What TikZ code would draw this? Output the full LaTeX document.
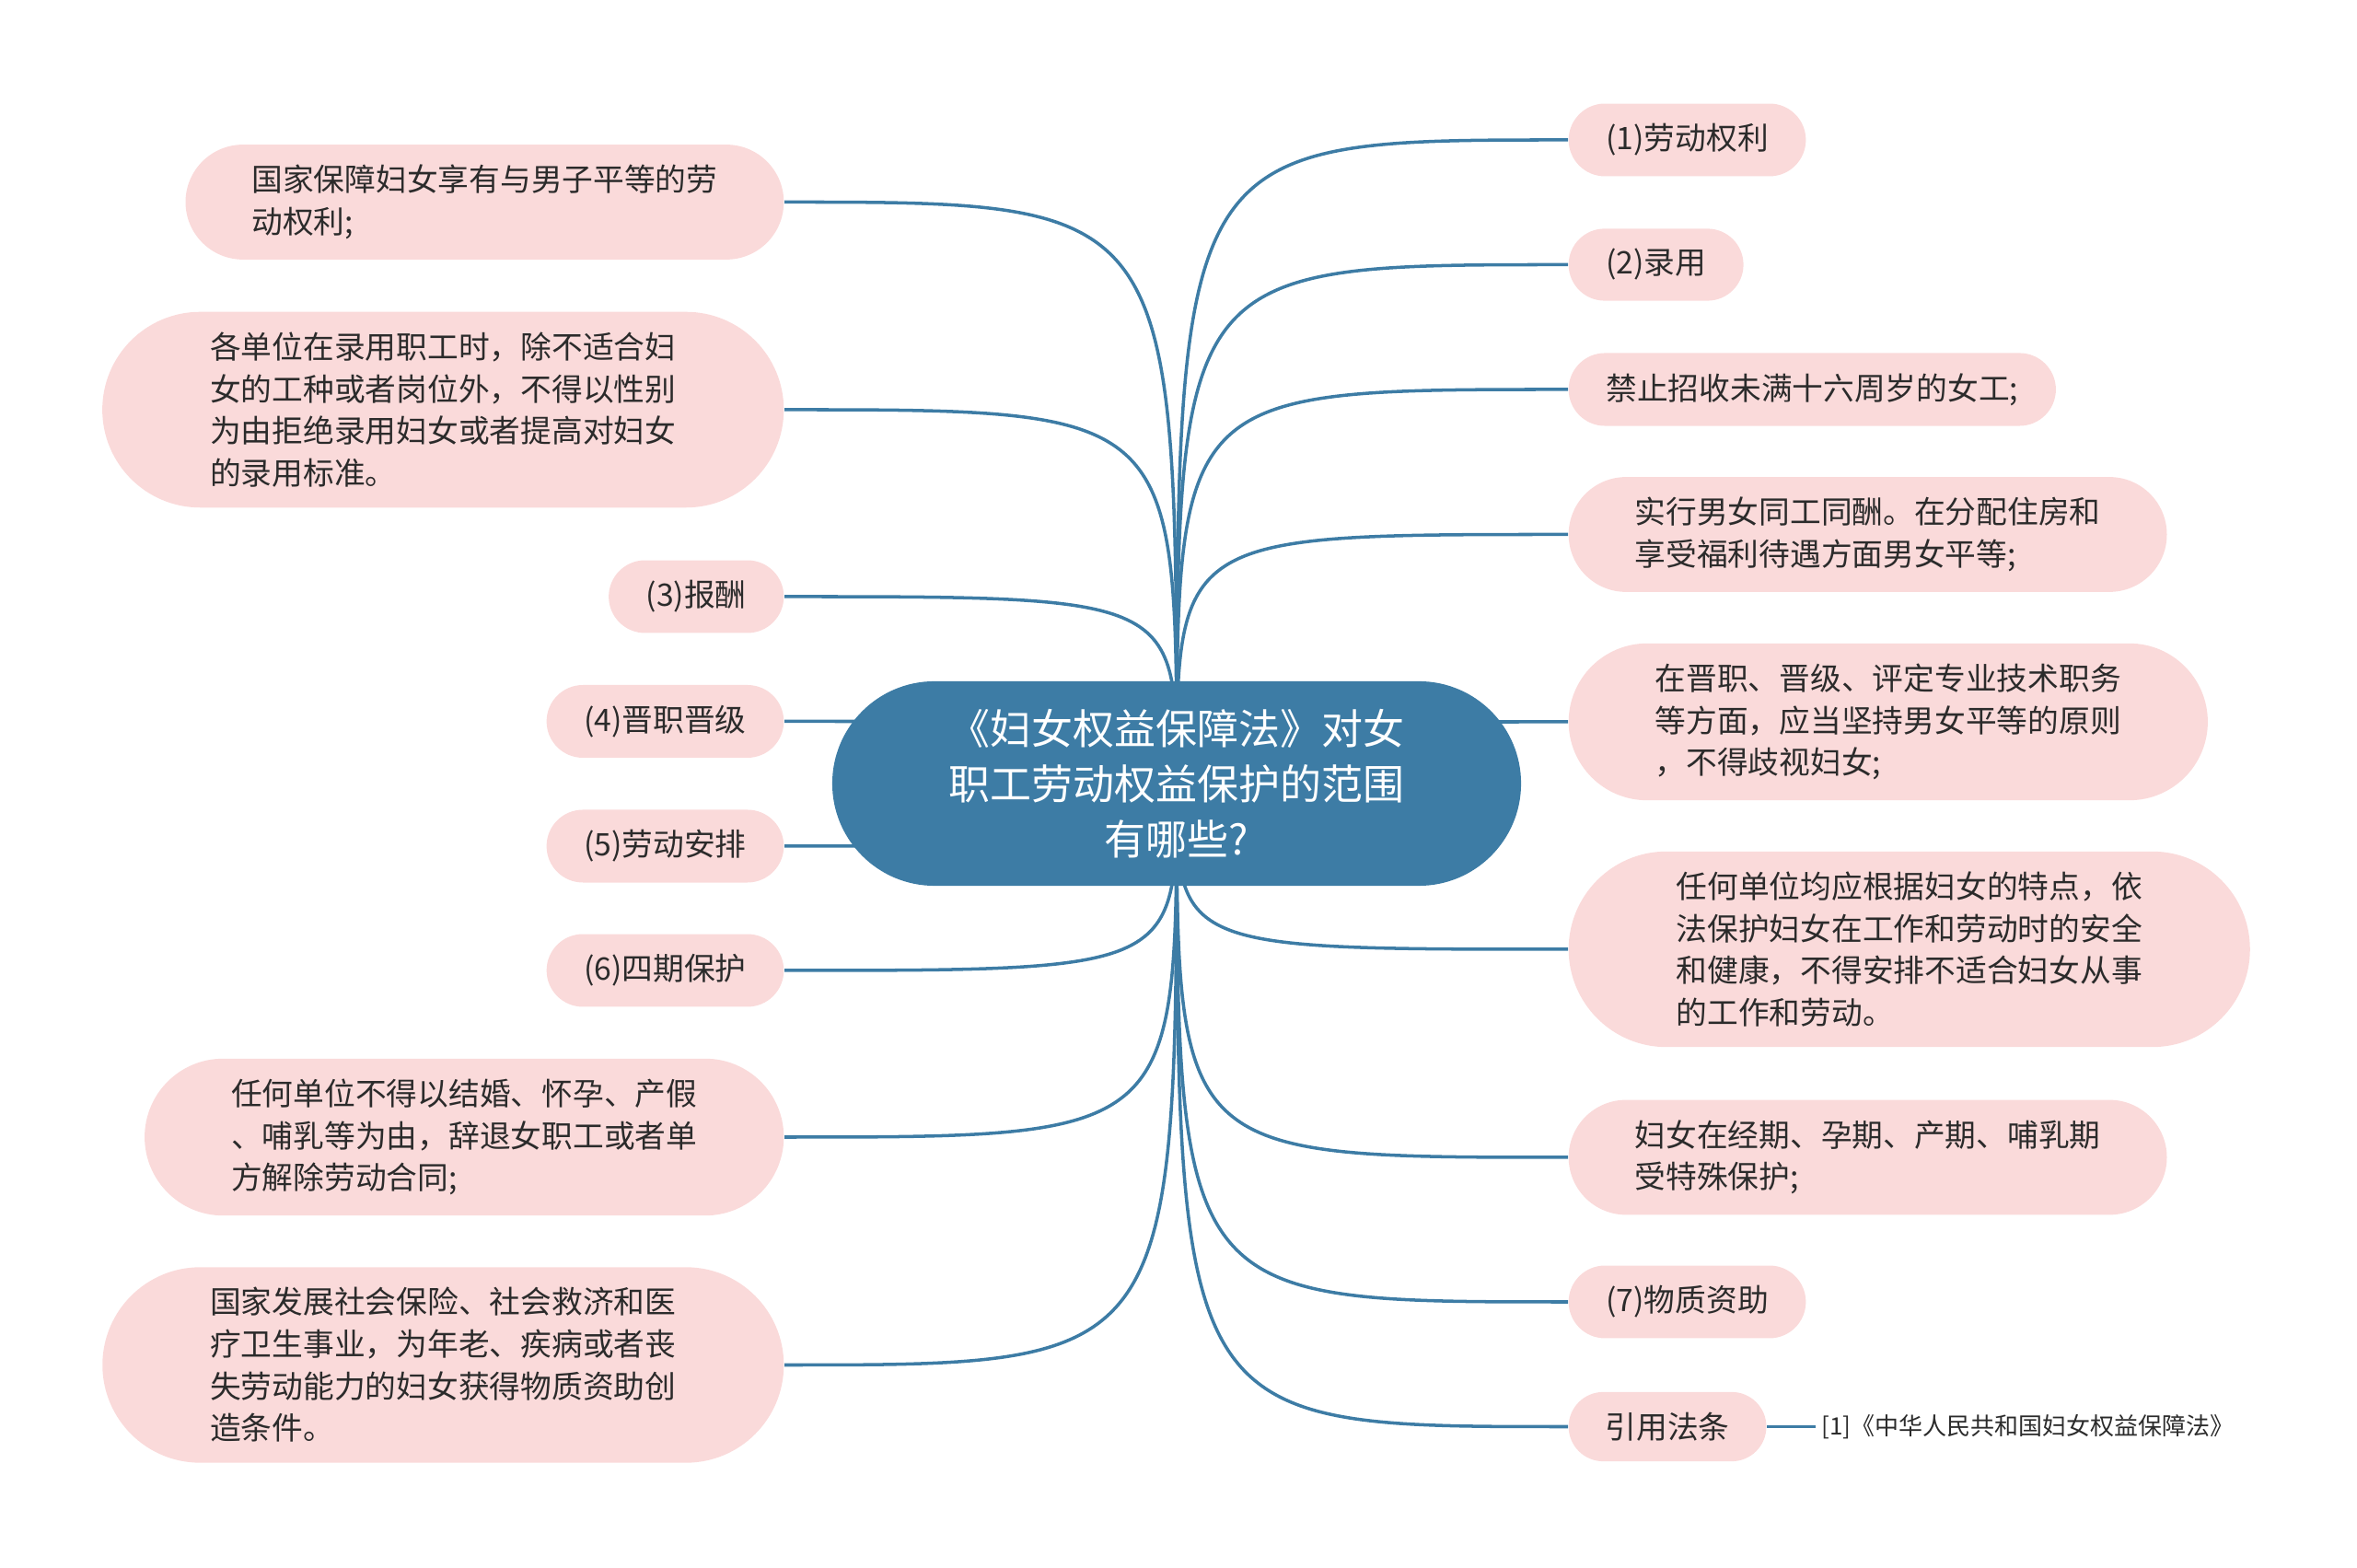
\documentclass[tikz,border=0pt]{standalone}
\usepackage{fontspec}
\setmainfont{Noto Sans CJK SC}
\usetikzlibrary{shapes.misc, backgrounds}

\definecolor{topicblue}{HTML}{3D7CA5}
\definecolor{leafpink}{HTML}{FADADA}
\definecolor{leaftext}{HTML}{2B2B2B}

\begin{document}
\begin{tikzpicture}[
    x=1cm, y=1cm,
    every node/.style={font=\fontsize{9.6}{13}\selectfont},
    topic/.style={rounded rectangle, fill=topicblue, text=white, align=center, inner xsep=0.915cm, inner ysep=0.3cm, font=\fontsize{12.8}{17.1}\selectfont},
    leafL/.style={rounded rectangle, fill=leafpink, text=leaftext, align=left, inner xsep=#1, inner ysep=0.22cm, anchor=east},
    leafL/.default=0.365cm,
    leafR/.style={leafL=#1, anchor=west},
    leafR/.default=0.365cm,
    citetext/.style={anchor=west, text=leaftext, inner sep=0.06cm, font=\fontsize{7.4}{9}\selectfont},
    link/.style={topicblue, line width=1pt},
]
\useasboundingbox (0,0) rectangle (25.6,17.03);

% Central topic
\node[topic] (topic) at (12.78, 8.52) {《妇女权益保障法》对女\\职工劳动权益保护的范围\\有哪些?};

% Left branch
\node[leafL=0.57cm]  (equalright) at (8.52, 14.835) {国家保障妇女享有与男子平等的劳\\动权利;};
\node[leafL=0.755cm] (hiringrule) at (8.52, 12.58) {各单位在录用职工时，除不适合妇\\女的工种或者岗位外，不得以性别\\为由拒绝录用妇女或者提高对妇女\\的录用标准。};
\node[leafL] (pay)        at (8.52, 10.55) {(3)报酬};
\node[leafL] (promo)      at (8.52, 9.195) {(4)晋职晋级};
\node[leafL] (arrange)    at (8.52, 7.84) {(5)劳动安排};
\node[leafL] (fourperiod) at (8.52, 6.49) {(6)四期保护};
\node[leafL=0.66cm]  (nodismiss)  at (8.52, 4.68) {任何单位不得以结婚、怀孕、产假\\、哺乳等为由，辞退女职工或者单\\方解除劳动合同;};
\node[leafL=0.755cm] (aid)        at (8.52, 2.205) {国家发展社会保险、社会救济和医\\疗卫生事业，为年老、疾病或者丧\\失劳动能力的妇女获得物质资助创\\造条件。};

% Right branch
\node[leafR] (labor)     at (17.03, 15.51) {(1)劳动权利};
\node[leafR] (hiring)    at (17.03, 14.155) {(2)录用};
\node[leafR] (nochild)   at (17.03, 12.80) {禁止招收未满十六周岁的女工;};
\node[leafR=0.57cm]  (equalpay)  at (17.03, 11.225) {实行男女同工同酬。在分配住房和\\享受福利待遇方面男女平等;};
\node[leafR=0.66cm]  (promorule) at (17.03, 9.19) {在晋职、晋级、评定专业技术职务\\等方面，应当坚持男女平等的原则\\，不得歧视妇女;};
\node[leafR=0.755cm] (safety)    at (17.03, 6.72) {任何单位均应根据妇女的特点，依\\法保护妇女在工作和劳动时的安全\\和健康，不得安排不适合妇女从事\\的工作和劳动。};
\node[leafR=0.57cm]  (special)   at (17.03, 4.46) {妇女在经期、孕期、产期、哺乳期\\受特殊保护;};
\node[leafR] (material)  at (17.03, 2.89) {(7)物质资助};
\node[leafR] (lawref)    at (17.03, 1.535) {引用法条};
\node[citetext] (cite) at (19.72, 1.535) {[1]《中华人民共和国妇女权益保障法》};

% Connectors
\begin{scope}[on background layer]
\draw[link] (topic.center) .. controls (topic.center |- equalright.east) .. (equalright.east);
\draw[link] (topic.center) .. controls (topic.center |- hiringrule.east) .. (hiringrule.east);
\draw[link] (topic.center) .. controls (topic.center |- pay.east) .. (pay.east);
\draw[link] (topic.center) .. controls (topic.center |- promo.east) .. (promo.east);
\draw[link] (topic.center) .. controls (topic.center |- arrange.east) .. (arrange.east);
\draw[link] (topic.center) .. controls (topic.center |- fourperiod.east) .. (fourperiod.east);
\draw[link] (topic.center) .. controls (topic.center |- nodismiss.east) .. (nodismiss.east);
\draw[link] (topic.center) .. controls (topic.center |- aid.east) .. (aid.east);
\draw[link] (topic.center) .. controls (topic.center |- labor.west) .. (labor.west);
\draw[link] (topic.center) .. controls (topic.center |- hiring.west) .. (hiring.west);
\draw[link] (topic.center) .. controls (topic.center |- nochild.west) .. (nochild.west);
\draw[link] (topic.center) .. controls (topic.center |- equalpay.west) .. (equalpay.west);
\draw[link] (topic.center) .. controls (topic.center |- promorule.west) .. (promorule.west);
\draw[link] (topic.center) .. controls (topic.center |- safety.west) .. (safety.west);
\draw[link] (topic.center) .. controls (topic.center |- special.west) .. (special.west);
\draw[link] (topic.center) .. controls (topic.center |- material.west) .. (material.west);
\draw[link] (topic.center) .. controls (topic.center |- lawref.west) .. (lawref.west);
\draw[link] (lawref.east) -- (cite.west);
\end{scope}

\end{tikzpicture}
\end{document}
